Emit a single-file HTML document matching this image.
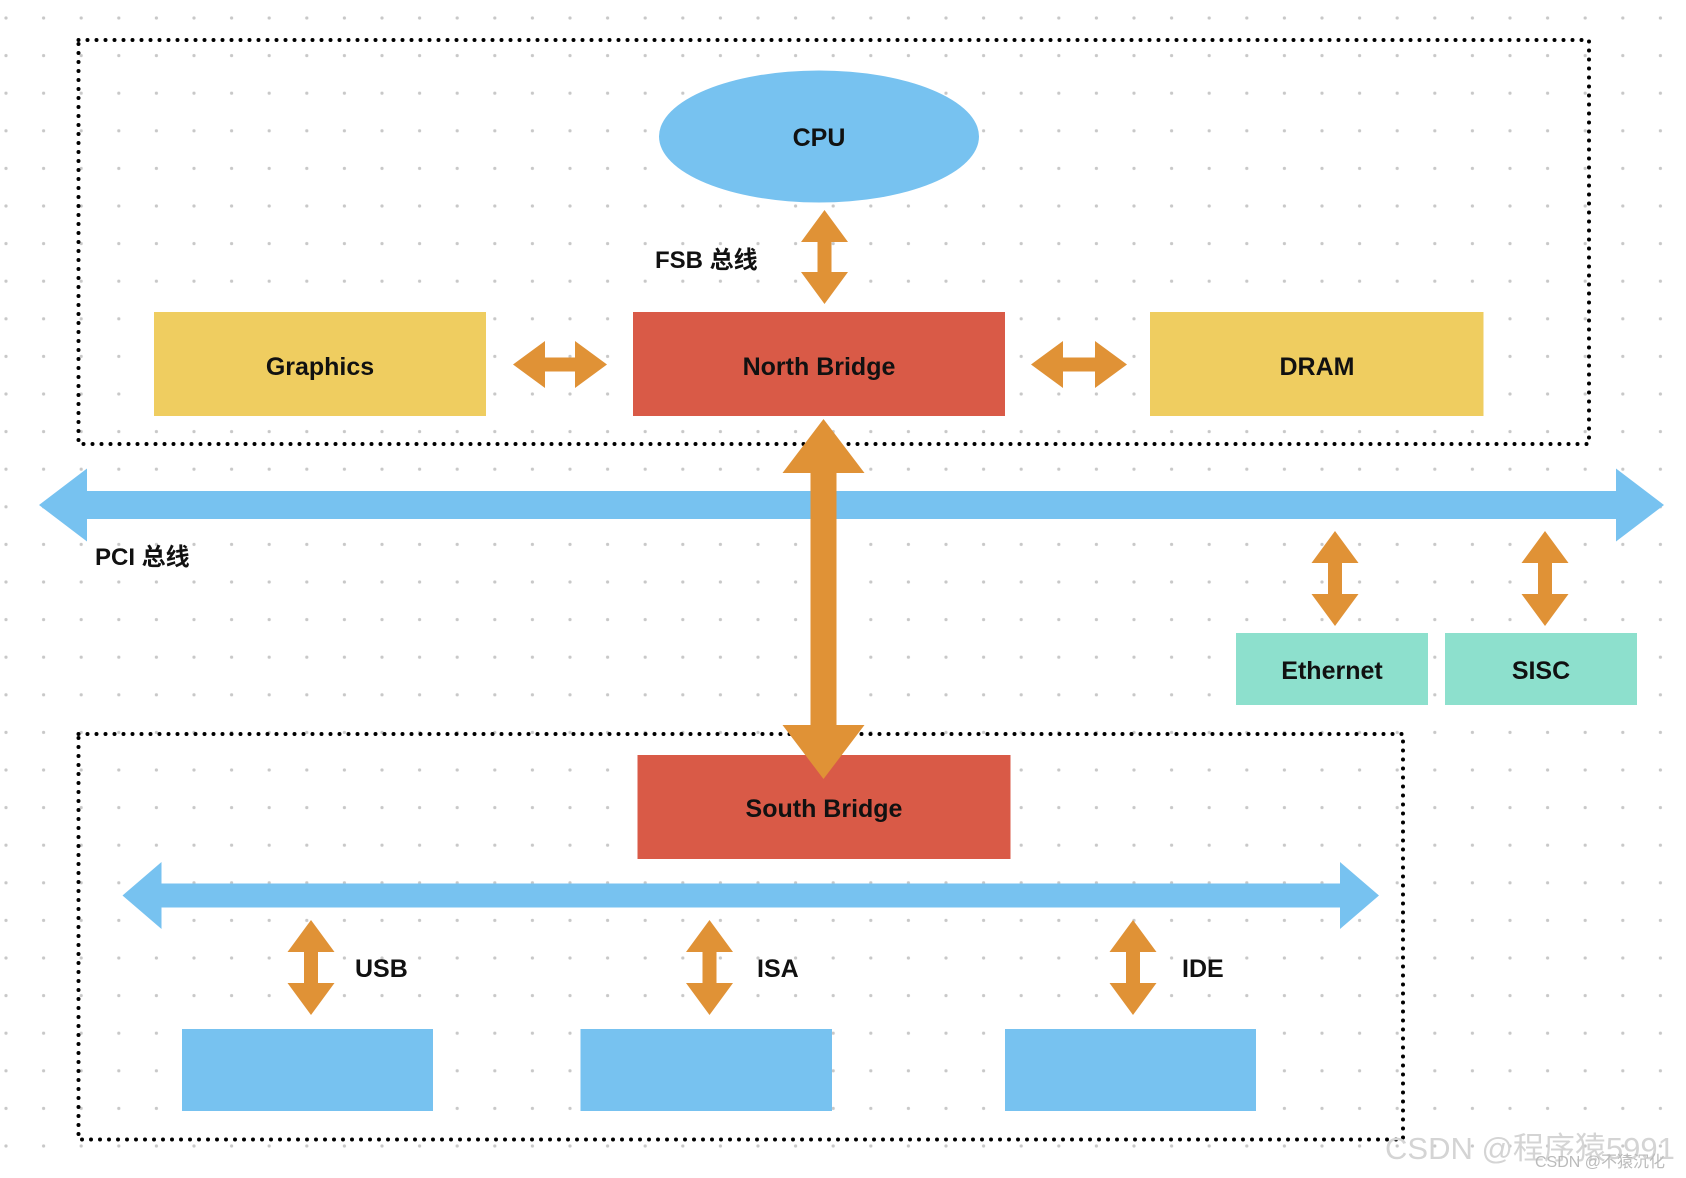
<!DOCTYPE html>
<html><head><meta charset="utf-8"><style>
html,body{margin:0;padding:0;background:#fff;}
svg{display:block;}
text{font-family:"Liberation Sans","Noto Sans CJK SC",sans-serif;font-weight:bold;fill:#111;}
</style></head><body>
<svg width="1686" height="1178" viewBox="0 0 1686 1178" xmlns="http://www.w3.org/2000/svg">
<defs>
<pattern id="dots" x="6" y="18" width="37.6" height="37.6" patternUnits="userSpaceOnUse">
<circle cx="0" cy="0" r="1.6" fill="#c8c8c8"/><circle cx="37.6" cy="0" r="1.6" fill="#c8c8c8"/><circle cx="0" cy="37.6" r="1.6" fill="#c8c8c8"/><circle cx="37.6" cy="37.6" r="1.6" fill="#c8c8c8"/>
</pattern>
</defs>
<rect width="1686" height="1178" fill="url(#dots)"/>

<rect x="78.5" y="40" width="1510.5" height="404" fill="none" stroke="#000" stroke-width="4" stroke-linecap="round" stroke-dasharray="0 9"/>
<rect x="78.5" y="734" width="1324.5" height="405.5" fill="none" stroke="#000" stroke-width="4" stroke-linecap="round" stroke-dasharray="0 9"/>

<ellipse cx="819" cy="136.5" rx="160" ry="66" fill="#77c2f0"/>
<text x="819" y="146" font-size="25" text-anchor="middle">CPU</text>

<text x="655" y="268" font-size="24">FSB 总线</text>

<rect x="154" y="312" width="332" height="104" fill="#efcd60"/>
<text x="320" y="375" font-size="25" text-anchor="middle">Graphics</text>
<rect x="633" y="312" width="372" height="104" fill="#d95a47"/>
<text x="819" y="375" font-size="25" text-anchor="middle">North Bridge</text>
<rect x="1150" y="312" width="333.5" height="104" fill="#efcd60"/>
<text x="1317" y="375" font-size="25" text-anchor="middle">DRAM</text>

<g fill="#e09236">
<!-- FSB arrow -->
<polygon points="824.5,210 848,242 831.5,242 831.5,272 848,272 824.5,304 801,272 817.5,272 817.5,242 801,242"/>
<!-- horizontal small arrows -->
<polygon points="513,364.5 545,341 545,357.5 575,357.5 575,341 607,364.5 575,388 575,371.5 545,371.5 545,388"/>
<polygon points="1031,364.5 1063,341 1063,357.5 1095,357.5 1095,341 1127,364.5 1095,388 1095,371.5 1063,371.5 1063,388"/>
</g>

<!-- PCI bus -->
<polygon fill="#77c2f0" points="39,505 87,468.5 87,491 1616,491 1616,468.5 1664,505 1616,541.5 1616,519 87,519 87,541.5"/>
<text x="95" y="565" font-size="24">PCI 总线</text>

<rect x="1236" y="633" width="192" height="72" fill="#8de0cd"/>
<text x="1332" y="679" font-size="25" text-anchor="middle">Ethernet</text>
<rect x="1445" y="633" width="192" height="72" fill="#8de0cd"/>
<text x="1541" y="679" font-size="25" text-anchor="middle">SISC</text>

<rect x="637.5" y="755" width="373" height="104" fill="#d95a47"/>
<text x="824" y="817" font-size="25" text-anchor="middle">South Bridge</text>

<!-- bottom bus -->
<polygon fill="#77c2f0" points="122.5,895.5 161.5,862 161.5,883.5 1340,883.5 1340,862 1379,895.5 1340,929 1340,907.5 161.5,907.5 161.5,929"/>

<g fill="#e09236">
<polygon points="823.5,419 864.5,473 836.5,473 836.5,725 864.5,725 823.5,779 782.5,725 810.5,725 810.5,473 782.5,473"/>
<polygon points="1335,531 1358.5,563 1342,563 1342,594 1358.5,594 1335,626 1311.5,594 1328,594 1328,563 1311.5,563"/>
<polygon points="1545,531 1568.5,563 1552,563 1552,594 1568.5,594 1545,626 1521.5,594 1538,594 1538,563 1521.5,563"/>
<polygon points="311,920 334.5,952 318,952 318,983 334.5,983 311,1015 287.5,983 304,983 304,952 287.5,952"/>
<polygon points="709.5,920 733,952 716.5,952 716.5,983 733,983 709.5,1015 686,983 702.5,983 702.5,952 686,952"/>
<polygon points="1133,920 1156.5,952 1140,952 1140,983 1156.5,983 1133,1015 1109.5,983 1126,983 1126,952 1109.5,952"/>
</g>

<text x="355" y="977" font-size="25">USB</text>
<text x="757" y="977" font-size="25">ISA</text>
<text x="1182" y="977" font-size="25">IDE</text>

<rect x="182" y="1029" width="251" height="82" fill="#77c2f0"/>
<rect x="580.5" y="1029" width="251.5" height="82" fill="#77c2f0"/>
<rect x="1005" y="1029" width="251" height="82" fill="#77c2f0"/>

<text x="1385" y="1159" font-size="31" style="font-weight:normal;fill:#d4d4d4">CSDN @程序猿5991</text>
<text x="1535" y="1167" font-size="16" style="font-weight:normal;fill:#bbb">CSDN @不猿沉化</text>
</svg>
</body></html>
